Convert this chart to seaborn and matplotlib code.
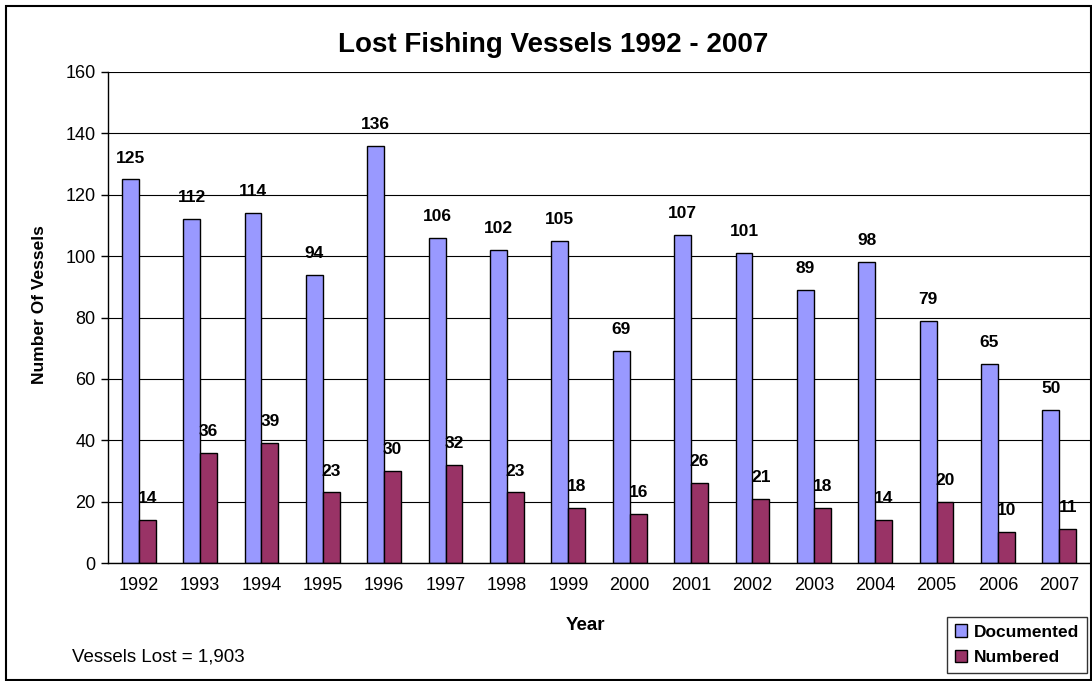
import matplotlib
matplotlib.use("Agg")
import matplotlib.pyplot as plt
from matplotlib.patches import Rectangle
import seaborn as sns
import pandas as pd

years = [str(y) for y in range(1992, 2008)]
documented = [125, 112, 114, 94, 136, 106, 102, 105, 69, 107, 101, 89, 98, 79, 65, 50]
numbered = [14, 36, 39, 23, 30, 32, 23, 18, 16, 26, 21, 18, 14, 20, 10, 11]
series_names = ["Documented", "Numbered"]
colors = ["#9999FF", "#993366"]

df = pd.DataFrame({
    "year": years * 2,
    "count": documented + numbered,
    "series": [series_names[0]] * len(years) + [series_names[1]] * len(years),
})

sns.set_theme(style="white")
plt.rcParams["font.family"] = ["Liberation Sans", "DejaVu Sans"]
plt.rcParams["text.color"] = "black"
plt.rcParams["xtick.color"] = "black"
plt.rcParams["ytick.color"] = "black"
plt.rcParams["axes.labelcolor"] = "black"

W, H = 1092, 681
fig = plt.figure(figsize=(W / 100, H / 100), dpi=100)
ax = fig.add_axes([108 / W, (H - 563) / H, (1090 - 108) / W, (563 - 72) / H])

sns.barplot(data=df, x="year", y="count", hue="series", order=years,
            hue_order=series_names, palette=colors, width=0.55, gap=0,
            edgecolor="black", linewidth=1.0, saturation=1, ax=ax, legend=False)

for cont in ax.containers:
    ax.bar_label(cont, fmt="%d", padding=10, fontsize=12.5, fontweight="bold", color="black")

ax.set_ylim(0, 160)
ax.set_xlim(-0.5, len(years) - 0.5)
ax.set_yticks(range(0, 161, 20))
ax.yaxis.grid(True, color="black", linewidth=0.8)
ax.set_axisbelow(True)
for side in ["top", "right"]:
    ax.spines[side].set_visible(False)
for side in ["left", "bottom"]:
    ax.spines[side].set_color("black")
    ax.spines[side].set_linewidth(1.0)

ax.set_xticks(range(len(years)))
ax.set_xticklabels(years)
ax.set_xticks([i - 0.5 for i in range(len(years) + 1)], minor=True)
ax.tick_params(axis="x", which="major", length=0, pad=10, labelsize=13, labelcolor="black")
ax.tick_params(axis="x", which="minor", length=5, width=1, color="black", direction="out")
ax.tick_params(axis="y", which="major", length=5, width=1, color="black", direction="out",
               labelsize=13, left=True, pad=4, labelcolor="black")
ax.set_xlabel("")
ax.set_ylabel("")

fig.text(585 / W, 1 - 625 / H, "Year", ha="center", va="center",
         fontsize=13.5, fontweight="bold")
fig.text(40 / W, 1 - 305 / H, "Number Of Vessels", ha="center", va="center",
         rotation=90, fontsize=12.5, fontweight="bold")
fig.text(553 / W, 1 - 45 / H, "Lost Fishing Vessels 1992 - 2007",
         ha="center", va="center", fontsize=20, fontweight="bold")
fig.text(72 / W, 1 - 657 / H, "Vessels Lost = 1,903", ha="left", va="center", fontsize=13.5)

# legend box
handles = [Rectangle((0, 0), 1, 1, facecolor=c, edgecolor="black", linewidth=1) for c in colors]
leg = fig.legend(handles, series_names, loc="lower right",
                 bbox_to_anchor=(1087 / W, 1 - 673 / H), frameon=True, fancybox=False,
                 edgecolor="black", handlelength=0.7, handleheight=0.7, handletextpad=0.4,
                 borderpad=0.45, borderaxespad=0, labelspacing=0.6,
                 prop={"weight": "bold", "size": 12.5})
leg.get_frame().set_linewidth(1.0)

# outer border
fig.patches.append(Rectangle((6 / W, 1 / H), 1 - 7 / W, 1 - 7 / H, transform=fig.transFigure,
                             fill=False, edgecolor="black", linewidth=1.5))

fig.savefig("out.png", dpi=100)
